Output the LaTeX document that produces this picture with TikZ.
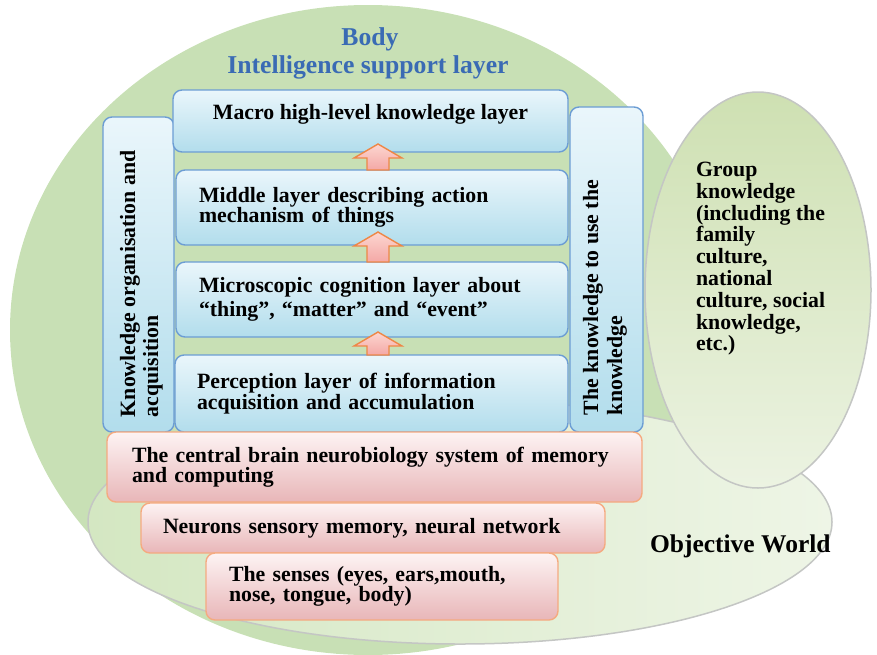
\documentclass[tikz,border=0pt]{standalone}
\usepackage{fontspec}
\setmainfont{Liberation Serif}
\usetikzlibrary{calc}

\definecolor{bodygreen}{RGB}{200,224,181}
\definecolor{worldleft}{RGB}{212,231,194}
\definecolor{worldright}{RGB}{238,245,230}
\definecolor{groupdark}{RGB}{206,224,178}
\definecolor{grouplight}{RGB}{236,243,226}
\definecolor{rimgray}{RGB}{196,198,196}
\definecolor{titleblue}{RGB}{58,107,180}
\definecolor{bluetop}{RGB}{234,246,251}
\definecolor{bluebot}{RGB}{178,221,236}
\definecolor{blueline}{RGB}{108,157,212}
\definecolor{pinktop}{RGB}{253,243,243}
\definecolor{pinkbot}{RGB}{232,182,184}
\definecolor{pinkline}{RGB}{245,170,128}
\definecolor{lifttop}{RGB}{252,214,208}
\definecolor{liftbot}{RGB}{244,168,166}
\definecolor{liftline}{RGB}{238,135,70}

% upward block arrow from the top of box #1 to the bottom of box #2,
% its tip reaching #3 above the lower edge of box #2
\newcommand{\liftarrow}[3]{%
  \path[liftstyle] let \p1=($(#2.south -| ax)+(0,-#3)$), \p2=(#1.north -| ax) in
    (\x1-11pt,\y2) -- (\x1-11pt,\y1-14pt) -- (\x1-24pt,\y1-14pt) -- (\x1,\y1)
    -- (\x1+24pt,\y1-14pt) -- (\x1+11pt,\y1-14pt) -- (\x1+11pt,\y2) -- cycle;}

\begin{document}
\begin{tikzpicture}[x=1pt,y=-1pt,
  every node/.style={inner sep=0pt, outer sep=0pt},
  txt/.style={font=\bfseries\fontsize{21.8}{20.5}\selectfont, text=black},
  bluebox/.style={draw=blueline, line width=1.4pt, rounded corners=9pt,
    top color=bluetop, bottom color=bluebot, anchor=north west},
  pinkbox/.style={draw=pinkline, line width=1.4pt, rounded corners=9pt,
    top color=pinktop, bottom color=pinkbot, anchor=north west},
  liftstyle/.style={draw=liftline, line width=1.4pt, line join=miter,
    top color=lifttop, bottom color=liftbot},
  rim/.style={draw=rimgray, line width=1.5pt},
  titletext/.style={font=\bfseries\fontsize{25.7}{28}\selectfont, text=titleblue, anchor=base}]

\useasboundingbox (0,0) rectangle (877,654);

% background regions
\path[fill=bodygreen] (368,330) ellipse [x radius=358pt, y radius=325pt];
\path[rim, left color=worldleft, right color=worldright]
  (460,522) ellipse [x radius=372pt, y radius=122pt];
\path[rim, top color=groupdark, bottom color=grouplight]
  (758,290) ellipse [x radius=113pt, y radius=198pt];

% title
\node[titletext] (bodyT) at (370,45) {Body};
\node[titletext] (supportT) at (368,73) {Intelligence support layer};

% side columns
\node[bluebox, minimum width=71pt, minimum height=315pt] (leftcol) at (103,117) {};
\node[bluebox, minimum width=73pt, minimum height=325pt] (rightcol) at (570,107) {};

% knowledge layers
\node[bluebox, txt, minimum width=395pt, minimum height=62pt,
  text height=15pt, text depth=18pt, inner ysep=14pt] (macro) at (173,90)
  {Macro high-level knowledge layer};
\node[bluebox, txt, minimum width=392pt, minimum height=75pt, inner xsep=23pt,
  text width=346pt, align=left] (middle) at (176,170)
  {Middle layer describing action\\mechanism of things};
\node[bluebox, txt, minimum width=392pt, minimum height=75pt, inner xsep=23pt,
  text width=346pt, align=left] (micro) at (176,262)
  {Microscopic cognition layer about\\[4pt]“thing”, “matter” and “event”};
\node[bluebox, txt, minimum width=393pt, minimum height=77pt, inner xsep=22pt,
  text width=349pt, align=left] (percept) at (175,355)
  {Perception layer of information\\acquisition and accumulation};

% biological base
\node[pinkbox, txt, minimum width=535pt, minimum height=70pt, inner xsep=25pt,
  text width=485pt, align=left] (brain) at (107,432)
  {The central brain neurobiology system of memory\\and computing};
\node[pinkbox, txt, minimum width=464pt, minimum height=50pt, inner xsep=22pt,
  text width=420pt, align=left] (neurons) at (141,503)
  {Neurons sensory memory, neural network};
\node[pinkbox, txt, minimum width=352pt, minimum height=67pt, inner xsep=23pt,
  text width=306pt, align=left] (senses) at (206,553)
  {The senses (eyes, ears,mouth,\\nose, tongue, body)};

% upward arrows between the layers
\coordinate (ax) at (378,0);
\liftarrow{middle}{macro}{8}
\liftarrow{micro}{middle}{13}
\liftarrow{percept}{micro}{5}

% column labels
\node[txt, rotate=90, anchor=base west] (orgA) at (135,417) {Knowledge organisation and};
\node[txt, rotate=90, anchor=base west] (orgB) at (158,417) {acquisition};
\node[txt, rotate=90, anchor=base west] (useA) at (598,415) {The knowledge to use the};
\node[txt, rotate=90, anchor=base west] (useB) at (622,415) {knowledge};

% outer labels
\node[txt, font=\bfseries\fontsize{21.8}{21.8}\selectfont, anchor=north west, align=left]
  (groupT) at (696,162)
  {Group\\knowledge\\(including the\\family\\culture,\\national\\culture, social\\knowledge,\\etc.)};
\node[font=\bfseries\fontsize{25.5}{28}\selectfont, anchor=base west] (worldT) at (650,552)
  {Objective World};

\end{tikzpicture}
\end{document}
